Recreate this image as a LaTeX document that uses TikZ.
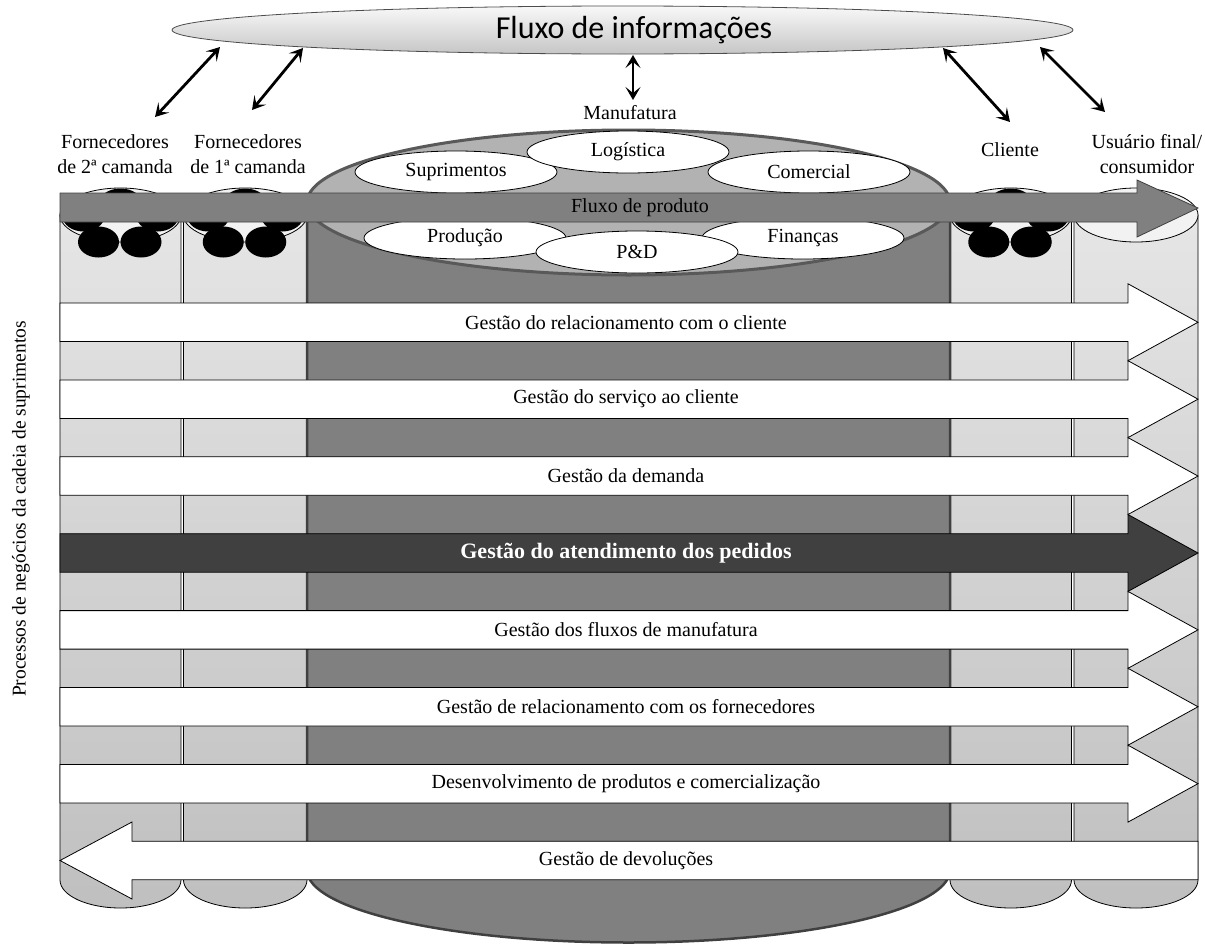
\documentclass[tikz,border=0pt]{standalone}
\usepackage{fontspec}
\setmainfont{Liberation Serif}
\newfontfamily\calibrifont{Carlito}
\usetikzlibrary{arrows.meta,shapes.geometric}

\begin{document}
\begin{tikzpicture}[x=1pt,y=-1pt,
    every node/.style={font=\fontsize{20}{25}\selectfont,inner sep=0pt},
    twoway/.style={{Stealth[length=13pt,width=15pt,inset=6pt]}-{Stealth[length=13pt,width=15pt,inset=6pt]},line width=2.8pt},
    oval/.style={ellipse,draw,fill=white,line width=0.8pt,minimum width=202pt,minimum height=42pt},
    band/.style={draw,fill=white,line width=0.8pt},
    col/.style={draw,line width=0.8pt,top color=gray!20,bottom color=gray!50}]
\useasboundingbox (0,0) rectangle (1205,945);

\node[ellipse,draw=black!70,line width=0.8pt,top color=gray!5,bottom color=gray!45,
      minimum width=901pt,minimum height=48pt] (info) at (622.5,30) {};
\node[font=\calibrifont\fontsize{32}{38}\selectfont] (infotxt) at (634,30) {Fluxo de informações};

\node[align=center] (forn2) at (115,154) {Fornecedores\\de 2ª camanda};
\node[align=center] (forn1) at (248,154) {Fornecedores\\de 1ª camanda};
\node (manuf) at (630,113) {Manufatura};
\node (cli) at (1010,150) {Cliente};
\node[align=center] (usr) at (1147,154) {Usuário final/\\consumidor};

\coordinate (i1) at (220,47);  \coordinate (f2) at (155,117);
\coordinate (i2) at (303,48);  \coordinate (f1) at (252,110);
\coordinate (i3) at (633,55);  \coordinate (m0) at (633,100);
\coordinate (i4) at (943,48);  \coordinate (c0) at (1010,122);
\coordinate (i5) at (1040,47); \coordinate (u0) at (1105,112);
\draw[twoway] (i1) -- (f2);
\draw[twoway] (i2) -- (f1);
\draw[twoway] (i3) -- (m0);
\draw[twoway] (i4) -- (c0);
\draw[twoway] (i5) -- (u0);

\foreach \xa/\xb/\ppl in {60/181/1,183.5/307/1,950/1071.5/1,1074/1198/0}{
  \pgfmathsetmacro\xc{(\xa+\xb)/2}
  \pgfmathsetmacro\rx{(\xb-\xa)/2}
  \path[col] (\xa,215) -- (\xa,880) arc[start angle=180,end angle=360,x radius=\rx pt,y radius=28pt] -- (\xb,215) -- cycle;
  \fill[gray!10] (\xc,215) ellipse[x radius=\rx pt,y radius=27pt];
  \ifnum\ppl=1
    \begin{scope}
      \clip (\xc,215) ellipse[x radius=\rx pt,y radius=27pt];
      \fill ({\xc},204) ellipse[x radius=22pt,y radius=15.5pt];
      \fill ({\xc-37},216) ellipse[x radius=21pt,y radius=15.5pt];
      \fill ({\xc+37},216) ellipse[x radius=21pt,y radius=15.5pt];
    \end{scope}
  \fi
  \draw[line width=0.8pt] (\xc,215) ellipse[x radius=\rx pt,y radius=27pt];
  \ifnum\ppl=1
    \fill ({\xc-22},242) ellipse[x radius=20.5pt,y radius=15.5pt];
    \fill ({\xc+20.5},242) ellipse[x radius=20.5pt,y radius=15.5pt];
  \fi
}

\path[draw=black!75,line width=2.5pt,fill=gray] (307,202.5) -- (307,870)
    arc[start angle=180,end angle=360,x radius=321.5pt,y radius=72.5pt] -- (950,202.5) -- cycle;
\node[ellipse,draw=black!65,line width=3pt,fill=gray!60,minimum width=643pt,minimum height=145pt] (mtop) at (628.5,202.5) {};
\node[oval] (supr) at (456,172) {Suprimentos};
\node[oval] (comer) at (809,172) {Comercial};
\node[oval] (logis) at (628,152) {Logística};
\node[oval] (prod) at (465,238) {Produção};
\node[oval] (finan) at (803,238) {Finanças};
\node[oval] (pd) at (637,252) {P\&D};

\draw[fill=gray,draw=black!75,line width=0.8pt] (60,193) -- (1137,193) -- (1137,180) -- (1198,208)
    -- (1137,237) -- (1137,222) -- (60,222) -- cycle;
\node (prodflow) at (640,207.5) {Fluxo de produto};

\foreach \k/\lbl in {0/{Gestão do relacionamento com o cliente},1/{Gestão do serviço ao cliente},
    2/{Gestão da demanda},4/{Gestão dos fluxos de manufatura},
    5/{Gestão de relacionamento com os fornecedores},6/{Desenvolvimento de produtos e comercialização}}{
  \pgfmathsetmacro\yt{303+76.9*\k}
  \draw[band] (60,\yt) -- (1128,\yt) -- (1128,{\yt-19.2}) -- (1198,{\yt+19.25}) -- (1128,{\yt+57.7})
      -- (1128,{\yt+38.5}) -- (60,{\yt+38.5}) -- cycle;
  \node (proc\k) at (626,{\yt+19.25}) {\lbl};
}
\draw[band,fill=black!75,draw=black] (60,533.7) -- (1128,533.7) -- (1128,514.5) -- (1198,553)
    -- (1128,591.4) -- (1128,572.2) -- (60,572.2) -- cycle;
\node[text=white,font=\bfseries\fontsize{22}{26}\selectfont] (proc3) at (626,553) {Gestão do atendimento dos pedidos};
\draw[band] (1198,841.3) -- (132,841.3) -- (132,822) -- (60,860.5) -- (132,899) -- (132,879.8)
    -- (1198,879.8) -- cycle;
\node (proc7) at (626,860.5) {Gestão de devoluções};

\node[rotate=90,font=\fontsize{19.5}{24}\selectfont] (procs) at (21,509) {Processos de negócios da cadeia de suprimentos};
\end{tikzpicture}
\end{document}
